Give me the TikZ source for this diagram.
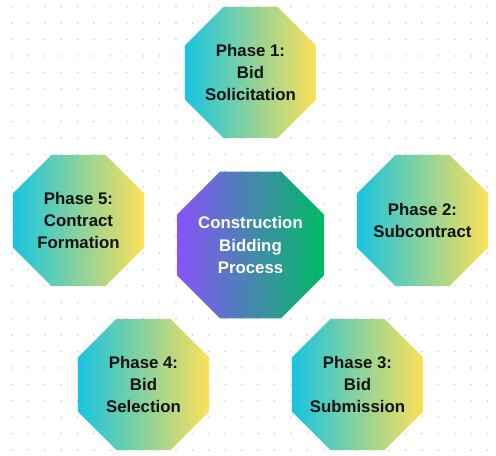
\documentclass[tikz,border=0pt]{standalone}
\usepackage{fontspec}
\setmainfont{Liberation Sans}
\usetikzlibrary{shapes.geometric}
\definecolor{phL}{RGB}{24,196,224}
\definecolor{phR}{RGB}{252,224,88}
\definecolor{ctL}{RGB}{138,82,250}
\definecolor{ctR}{RGB}{0,188,98}
\definecolor{dotc}{RGB}{204,208,220}
\definecolor{txt}{RGB}{17,17,17}
\tikzset{
  octo/.style={regular polygon, regular polygon sides=8, inner sep=0pt, outer sep=0pt},
  phase/.style={octo, minimum size=106.4pt, left color=phL, right color=phR},
  core/.style={octo, minimum size=119.3pt, left color=ctL, right color=ctR},
  lbl/.style={align=center, inner sep=0pt, font=\fontsize{12.6}{16.8}\selectfont\bfseries, text=txt},
  corelbl/.style={lbl, text=white}
}
\begin{document}
\begin{tikzpicture}[x=0.75pt,y=-0.75pt]
\useasboundingbox[fill=white] (0,0) rectangle (496,456);
\foreach \i in {0,...,29}{
  \foreach \j in {0,...,27}{
    \fill[dotc] ({12+16.4*\i},{6.7+16.42*\j}) circle (0.9);
  }
}
\node[core]  (c)  at (250.5,245)   {};
\node[phase] (p1) at (250.5,72.5)  {};
\node[phase] (p2) at (422.5,220.5) {};
\node[phase] (p3) at (357.5,384.5) {};
\node[phase] (p4) at (143.5,384.5) {};
\node[phase] (p5) at (78.5,220.5)  {};
\node[corelbl] (ct)  at (c)  {Construction\\Bidding\\Process};
\node[lbl]     (p1t) at (p1) {Phase 1:\\Bid\\Solicitation};
\node[lbl]     (p2t) at (p2) {Phase 2:\\Subcontract};
\node[lbl]     (p3t) at (p3) {Phase 3:\\Bid\\Submission};
\node[lbl]     (p4t) at (p4) {Phase 4:\\Bid\\Selection};
\node[lbl]     (p5t) at (p5) {Phase 5:\\Contract\\Formation};
\end{tikzpicture}
\end{document}
